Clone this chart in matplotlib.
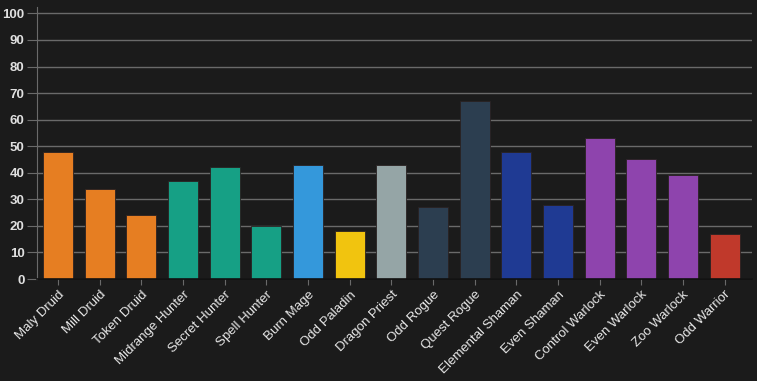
import matplotlib
matplotlib.use("Agg")
import matplotlib.pyplot as plt

categories = ["Maly Druid", "Mill Druid", "Token Druid", "Midrange Hunter", "Secret Hunter",
              "Spell Hunter", "Burn Mage", "Odd Paladin", "Dragon Priest", "Odd Rogue",
              "Quest Rogue", "Elemental Shaman", "Even Shaman", "Control Warlock",
              "Even Warlock", "Zoo Warlock", "Odd Warrior"]
values = [48, 34, 24, 37, 42, 20, 43, 18, 43, 27, 67, 48, 28, 53, 45, 39, 17]
colors = ["#e67e22", "#e67e22", "#e67e22", "#16a085", "#16a085", "#16a085", "#3498db",
          "#f1c40f", "#95a5a6", "#2c3e50", "#2c3e50", "#1f3a93", "#1f3a93",
          "#8e44ad", "#8e44ad", "#8e44ad", "#c0392b"]
yticks = list(range(0, 101, 10))

plt.rcParams['font.family'] = ['Liberation Sans', 'DejaVu Sans']
bg = "#1b1b1b"
fig = plt.figure(figsize=(7.57, 3.81), dpi=100, facecolor=bg)
ax = fig.add_axes([37 / 757, 1 - 279 / 381, (752 - 37) / 757, (279 - 7) / 381])
ax.set_facecolor(bg)

x = list(range(len(categories)))
ax.bar(x, values, width=0.72, color=colors, edgecolor="#2a2222", linewidth=0.6, zorder=3)

ax.set_xlim(-0.505, len(categories) - 0.34)
ax.set_ylim(0, 102.4)
ax.set_yticks(yticks)
ax.set_yticklabels([str(t) for t in yticks], fontsize=9.5, fontweight='bold', color="#e0e0e0")
ax.set_xticks(x)
ax.set_xticklabels(categories, rotation=45, ha='right', rotation_mode='anchor',
                   fontsize=9.5, color="#e8e8e8")
ax.grid(axis='y', color="#6a6a6a", linewidth=1, zorder=0)
ax.tick_params(axis='y', length=7, color="#6a6a6a", pad=2)
ax.tick_params(axis='x', length=4, color="#6a6a6a", pad=3)

for s in ['top', 'right']:
    ax.spines[s].set_visible(False)
ax.spines['left'].set_color("#6a6a6a")
ax.spines['bottom'].set_color("#111111")
ax.spines['bottom'].set_linewidth(1.2)
ax.spines['bottom'].set_zorder(4)

fig.savefig("out.png", dpi=100, facecolor=bg)
